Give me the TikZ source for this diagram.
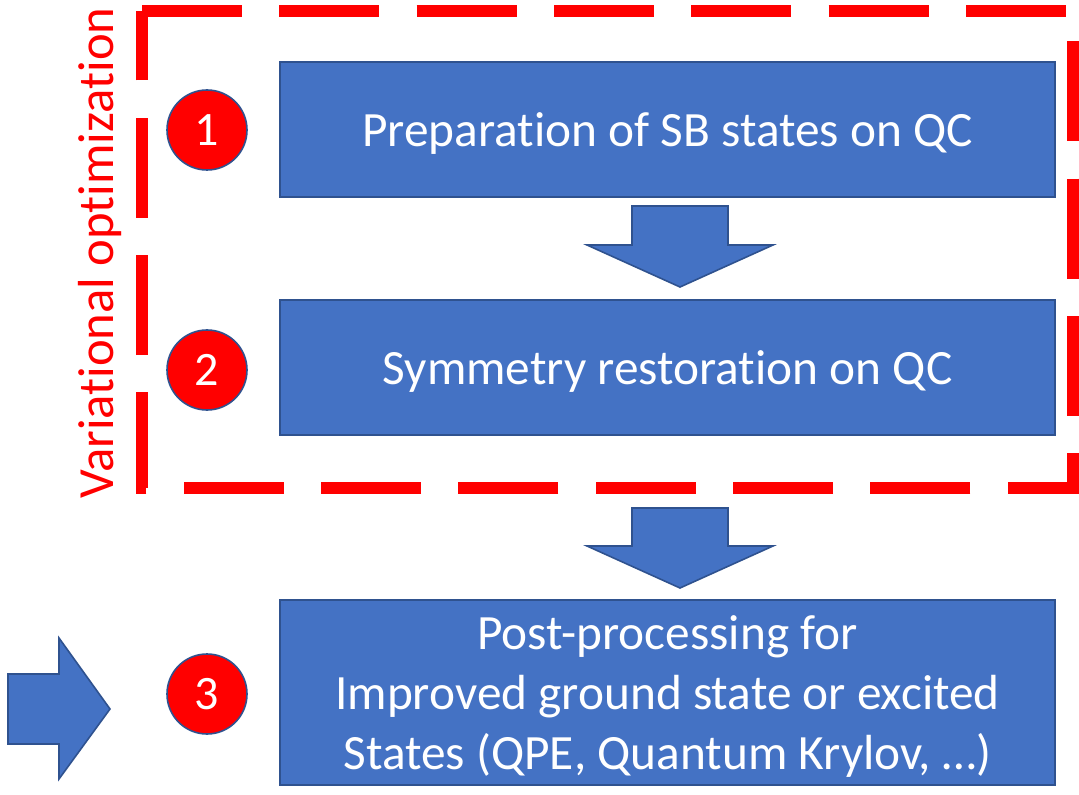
\documentclass[tikz,border=0pt]{standalone}
\usepackage{fontspec}
\setmainfont[Ligatures=NoCommon]{Carlito}
\usepackage{xcolor}
\usetikzlibrary{positioning, calc}

\definecolor{boxblue}{HTML}{4472C4}
\definecolor{boxedge}{HTML}{2F528F}
\definecolor{markred}{HTML}{FF0000}

% keep t and i apart (no ligature)
\newcommand{\tisep}{t\kern0pt i}

\tikzset{
  stagebox/.style={fill=boxblue, draw=boxedge, line width=1.2pt,
                   minimum width=581pt, minimum height=101pt, text depth=0pt,
                   text=white, font=\fontsize{37}{45}\selectfont, align=center},
  numdot/.style={circle, fill=markred, draw=boxedge, line width=1.2pt,
                 minimum size=60pt, inner sep=0pt, text=white,
                 font=\fontsize{36}{40}\selectfont},
  blockarrow/.style={fill=boxblue, draw=boxedge, line width=1.2pt, line join=miter},
  loopframe/.style={draw=markred, line width=9pt, dash pattern=on 75pt off 28pt}
}

\begin{document}
\begin{tikzpicture}[x=0.75pt, y=-0.75pt]
  \useasboundingbox (0,0) rectangle (1079,795);

  % variational loop frame
  \draw[loopframe] (142,11) -- (1073,11) -- (1073,488) -- (142,488) -- cycle;
  \node[rotate=90, text=markred, font=\fontsize{38}{42}\selectfont] (vlabel) at (100,253)
    {Varia\tisep onal op\tisep miza\tisep on};

  % stages
  \node[stagebox] (prep) at (667.5,129.5) {Preparation of SB states on QC};
  \node[stagebox] (restore) at (667.5,367.5) {Symmetry restora\tisep on on QC};
  \node[stagebox, minimum height=139pt] (post) at (667.5,692.5)
    {Post-processing for\\Improved ground state or excited\\States (QPE, Quantum Krylov, …)};

  \node[numdot] (n1) at (207,130) {1};
  \node[numdot] (n2) at (207,370) {2};
  \node[numdot] (n3) at (207,694) {3};

  % block arrows
  \filldraw[blockarrow] (632,206) -- (728,206) -- (728,245) -- (773,245) -- (680,287)
    -- (587,245) -- (632,245) -- cycle;
  \filldraw[blockarrow] (632,508) -- (728,508) -- (728,546) -- (773,546) -- (680,588)
    -- (587,546) -- (632,546) -- cycle;
  \filldraw[blockarrow] (8,674) -- (59,674) -- (59,638) -- (110,709) -- (59,779)
    -- (59,744) -- (8,744) -- cycle;
\end{tikzpicture}
\end{document}
